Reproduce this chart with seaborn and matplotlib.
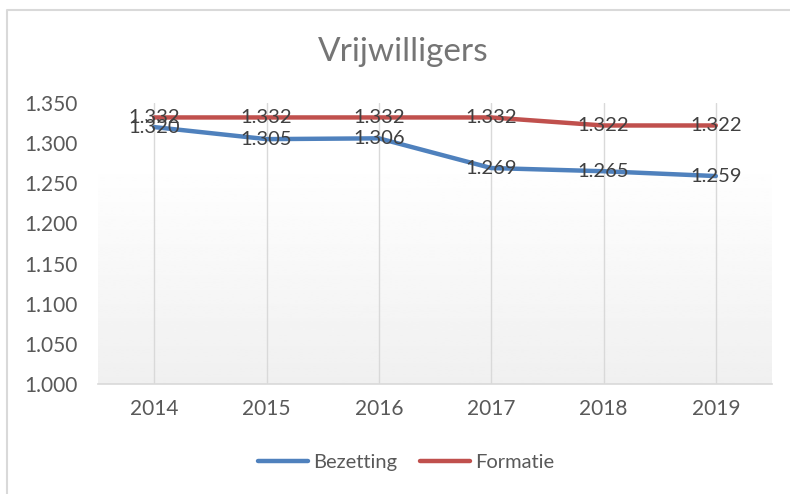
import numpy as np
import pandas as pd
import matplotlib
matplotlib.use("Agg")
import matplotlib.pyplot as plt
from matplotlib.lines import Line2D
from matplotlib.ticker import FuncFormatter
import seaborn as sns

# Data
years = ["2014", "2015", "2016", "2017", "2018", "2019"]
bezetting = [1320, 1305, 1306, 1269, 1265, 1259]
formatie = [1332, 1332, 1332, 1332, 1322, 1322]
series_names = ["Bezetting", "Formatie"]
colors = ["#4f81bd", "#c0504d"]

df = pd.DataFrame({
    "Jaar": years * 2,
    "Aantal": bezetting + formatie,
    "Reeks": [series_names[0]] * len(years) + [series_names[1]] * len(years),
})


def nl(v, pos=None):
    return f"{int(round(v)):,}".replace(",", ".")


sns.set_theme(style="white")
plt.rcParams["font.family"] = ["Lato", "DejaVu Sans"]

fig = plt.figure(figsize=(7.9, 4.94), dpi=100)
ax = fig.add_axes([98 / 790, 1 - 384 / 494, (772 - 98) / 790, (384 - 103) / 494])

# chart border (only left and top visible in the crop)
x0, y0 = 7 / 790, 1 - 10 / 494
fig.lines.append(Line2D([x0, x0, 1], [0, y0, y0], transform=fig.transFigure,
                        color="#d9d9d9", linewidth=1.5))

# gradient in plot area (white on top, light grey at the bottom)
grad = np.concatenate([np.ones(20), np.linspace(1.0, 0.94, 80)]).reshape(-1, 1)
ax.imshow(grad, extent=[-0.5, 5.5, 1000, 1350], aspect="auto", cmap="gray",
          vmin=0, vmax=1, zorder=0, interpolation="bilinear")

sns.lineplot(data=df, x="Jaar", y="Aantal", hue="Reeks", palette=colors,
             linewidth=3.2, ax=ax, sort=False, zorder=3)

for i in range(len(years)):
    ax.axvline(i, color="#d9d9d9", linewidth=1, zorder=1)

# data labels centred on the points
for vals in (bezetting, formatie):
    for i, v in enumerate(vals):
        ax.text(i, v, nl(v), ha="center", va="center", fontsize=14.5,
                color="#404040", zorder=4)

ax.set_xlim(-0.5, 5.5)
ax.set_ylim(1000, 1350)
ax.set_yticks(np.arange(1000, 1351, 50))
ax.yaxis.set_major_formatter(FuncFormatter(nl))
ax.tick_params(axis="both", length=0, labelsize=15, labelcolor="#595959")
ax.tick_params(axis="y", pad=15)
ax.tick_params(axis="x", pad=11)
ax.set_xlabel("")
ax.set_ylabel("")
for s in ["top", "right", "left"]:
    ax.spines[s].set_visible(False)
ax.spines["bottom"].set_color("#d9d9d9")
ax.spines["bottom"].set_linewidth(1.2)
ax.grid(False)

fig.text(403 / 790, 1 - 52 / 494, "Vrijwilligers", ha="center", va="center",
         fontsize=24, color="#757575")

handles, labels = ax.get_legend_handles_labels()
ax.legend_.remove()
leg = fig.legend(handles, labels, loc="center", bbox_to_anchor=(406 / 790, 1 - 462 / 494),
                 ncol=2, frameon=False, fontsize=14.5, handlelength=2.5,
                 handletextpad=0.25, columnspacing=1.1)
for t in leg.get_texts():
    t.set_color("#595959")

fig.savefig("out.png", dpi=100)
